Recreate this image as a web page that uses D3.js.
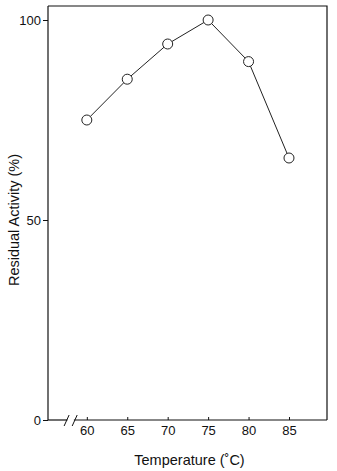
<!DOCTYPE html>
<html><head><meta charset="utf-8">
<script src="https://cdn.jsdelivr.net/npm/d3@7/dist/d3.min.js"></script>
<style>body{margin:0;background:#fff}svg{display:block}text{font-family:"Liberation Sans",Arial,sans-serif;fill:#111}</style>
</head><body>
<script>
const temperatures = [60, 65, 70, 75, 80, 85];
const activity = [75, 85.2, 94, 100, 89.6, 65.5];
const yTicks = [0, 50, 100];
const xLabel = "Temperature (\u02DAC)";
const yLabel = "Residual Activity (%)";

const W = 337, H = 471;
const m = {left: 48, top: 6, right: 10, bottom: 51};
const svg = d3.select("body").append("svg").attr("width", W).attr("height", H);
const x = d3.scaleLinear().domain([55.2, 89.7]).range([m.left, W - m.right]);
const y = d3.scaleLinear().domain([0, 103.5]).range([H - m.bottom, m.top]);
const x0 = m.left, x1 = W - m.right, y0 = H - m.bottom, y1 = m.top;

svg.append("path").attr("d", `M${x0},${y1}H${x1}V${y0}`).attr("fill","none").attr("stroke","#111").attr("stroke-width",1.2);
svg.append("line").attr("x1",x0).attr("x2",x0).attr("y1",y1).attr("y2",y0).attr("stroke","#111").attr("stroke-width",1.2);
svg.append("line").attr("x1",x0).attr("x2",x(57.6)).attr("y1",y0).attr("y2",y0).attr("stroke","#111").attr("stroke-width",1.2);
svg.append("line").attr("x1",x(58.4)).attr("x2",x1).attr("y1",y0).attr("y2",y0).attr("stroke","#111").attr("stroke-width",1.2);
[x(57.5), x(58.5)].forEach(bx => {
  svg.append("line").attr("x1",bx-2.5).attr("x2",bx+2.5).attr("y1",y0+6).attr("y2",y0-5).attr("stroke","#111").attr("stroke-width",1);
});

const ya = svg.append("g").attr("transform",`translate(${x0},0)`)
  .call(d3.axisLeft(y).tickValues(yTicks).tickSize(5).tickPadding(2));
ya.select(".domain").remove();
ya.selectAll("line").attr("stroke","#111");
ya.selectAll("text").attr("font-size",13).style("font-family","'Liberation Sans',Arial,sans-serif").attr("fill","#111");

const xa = svg.append("g").attr("transform",`translate(0,${y0})`)
  .call(d3.axisBottom(x).tickValues(temperatures).tickSize(-3).tickPadding(6));
xa.select(".domain").remove();
xa.selectAll("line").attr("stroke","#111");
xa.selectAll("text").attr("font-size",13).style("font-family","'Liberation Sans',Arial,sans-serif").attr("fill","#111");

const data = temperatures.map((t,i)=>({t, v: activity[i]}));
svg.append("path").datum(data)
  .attr("d", d3.line().x(d=>x(d.t)).y(d=>y(d.v)))
  .attr("fill","none").attr("stroke","#222").attr("stroke-width",1);
svg.selectAll("circle.pt").data(data).join("circle").attr("class","pt")
  .attr("cx",d=>x(d.t)).attr("cy",d=>y(d.v)).attr("r",5)
  .attr("fill","#fff").attr("stroke","#222").attr("stroke-width",1);

svg.append("text").attr("x", (x0+x1)/2 + 2).attr("y", 465).attr("text-anchor","middle")
  .attr("font-size",14.5).text(xLabel);
svg.append("text").attr("transform",`translate(19,${(y0+y1)/2 + 7}) rotate(-90)`).attr("text-anchor","middle")
  .attr("font-size",14.5).text(yLabel);
</script>
</body></html>
